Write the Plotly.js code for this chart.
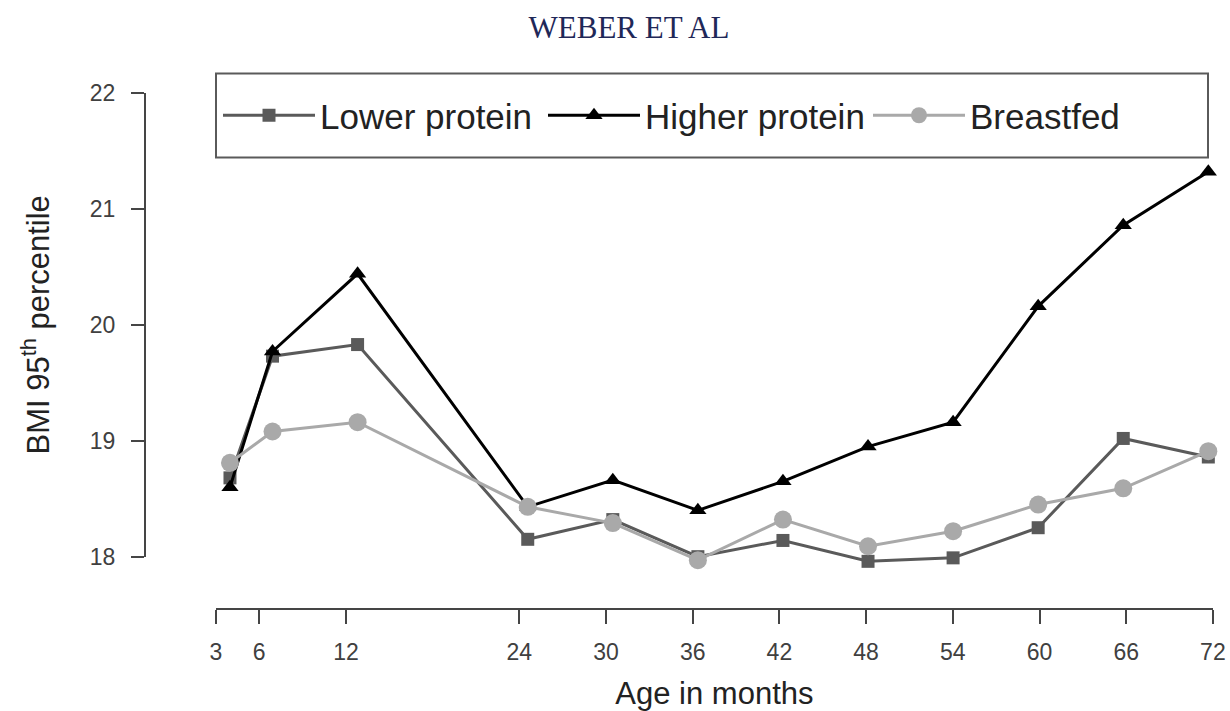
<!DOCTYPE html>
<html>
<head>
<meta charset="utf-8">
<script src="https://cdn.plot.ly/plotly-3.0.1.min.js"></script>
<style>
  html, body { margin: 0; padding: 0; background: #ffffff; }
  #chart { width: 1230px; height: 711px; }
</style>
</head>
<body>
<div id="chart"></div>
<script>
// Age at each visit (months)
const ages = [3, 6, 12, 24, 30, 36, 42, 48, 54, 60, 66, 72];

// BMI 95th percentile by feeding group
const lowerProtein  = [18.68, 19.73, 19.83, 18.15, 18.32, 18.00, 18.14, 17.96, 17.99, 18.25, 19.02, 18.86];
const higherProtein = [18.60, 19.77, 20.44, 18.43, 18.66, 18.40, 18.65, 18.95, 19.16, 20.16, 20.86, 21.32];
const breastfed     = [18.81, 19.08, 19.16, 18.43, 18.29, 17.97, 18.32, 18.09, 18.22, 18.45, 18.59, 18.91];

// Axis tick values and labels
const xTicks = [3, 6, 12, 24, 30, 36, 42, 48, 54, 60, 66, 72];
const yTicks = [18, 19, 20, 21, 22];

const W = 1230, H = 711;
const px = v => v / W;          // horizontal pixel -> paper fraction
const py = v => 1 - v / H;      // vertical pixel -> paper fraction

const sans = 'Liberation Sans, Arial, Helvetica, sans-serif';

const traces = [
  {
    name: 'Lower protein', x: ages, y: lowerProtein,
    mode: 'lines+markers', xaxis: 'x', yaxis: 'y',
    line: { color: '#5a5a5a', width: 3 },
    marker: { symbol: 'square', size: 13, color: '#5a5a5a' },
    cliponaxis: false
  },
  {
    name: 'Higher protein', x: ages, y: higherProtein,
    mode: 'lines+markers', xaxis: 'x', yaxis: 'y',
    line: { color: '#000000', width: 3 },
    marker: { symbol: 'triangle-up', size: 15, color: '#000000' },
    cliponaxis: false
  },
  {
    name: 'Breastfed', x: ages, y: breastfed,
    mode: 'lines+markers', xaxis: 'x', yaxis: 'y',
    line: { color: '#a9a9a9', width: 3 },
    marker: { symbol: 'circle', size: 18, color: '#a9a9a9' },
    cliponaxis: false
  },
  // carries the visible frame axes
  { x: [], y: [], xaxis: 'x2', yaxis: 'y2', showlegend: false, hoverinfo: 'skip', mode: 'markers' }
];

const axisLine = '#454545';

const layout = {
  width: W, height: H, autosize: false,
  margin: { l: 0, r: 0, t: 0, b: 0, pad: 0 },
  paper_bgcolor: '#ffffff', plot_bgcolor: 'rgba(0,0,0,0)',
  showlegend: true,
  title: {
    text: 'WEBER ET AL',
    x: px(629), y: py(27), xref: 'paper', yref: 'paper',
    xanchor: 'center', yanchor: 'middle',
    font: { family: 'Liberation Serif, Times New Roman, serif', size: 31, color: '#1f2858' }
  },
  // data scales
  xaxis: { range: [2, 73], domain: [px(215.8), px(1222.5)], visible: false, fixedrange: true },
  yaxis: { range: [17.5, 22.5], domain: [py(614.65), py(35.05)], visible: false, fixedrange: true },
  // drawn frame axes
  xaxis2: {
    range: [3, 72], domain: [px(215.9), px(1212.9)],
    anchor: 'free', position: py(609),
    showline: true, linecolor: axisLine, linewidth: 2,
    ticks: 'outside', ticklen: 14, tickwidth: 2, tickcolor: axisLine,
    tickmode: 'array', tickvals: xTicks, ticktext: xTicks.map(String),
    tickfont: { family: sans, size: 23, color: '#404040' },
    ticklabelstandoff: 8,
    showgrid: false, zeroline: false,
    title: { text: 'Age in months', standoff: 18, font: { family: sans, size: 31, color: '#222222' } }
  },
  yaxis2: {
    range: [18, 22], domain: [py(556.7), py(93)],
    anchor: 'free', position: px(145),
    showline: true, linecolor: axisLine, linewidth: 2,
    ticks: 'outside', ticklen: 13, tickwidth: 2, tickcolor: axisLine,
    tickmode: 'array', tickvals: yTicks, ticktext: yTicks.map(String),
    tickfont: { family: sans, size: 23, color: '#404040' },
    ticklabelstandoff: 11,
    showgrid: false, zeroline: false,
    title: { text: 'BMI 95<sup>th</sup> percentile', standoff: 30, font: { family: sans, size: 31, color: '#222222' } }
  },
  legend: {
    orientation: 'h',
    x: px(218), xanchor: 'left',
    y: py(115.5), yanchor: 'middle',
    bgcolor: 'rgba(0,0,0,0)', borderwidth: 0,
    itemwidth: 92, entrywidth: 218,
    font: { family: sans, size: 35, color: '#222222' },
    itemclick: false, itemdoubleclick: false
  },
  shapes: [
    {
      type: 'rect', xref: 'paper', yref: 'paper',
      x0: px(216), x1: px(1208), y0: py(73.5), y1: py(157.5),
      line: { color: '#5a5a5a', width: 2 }, fillcolor: 'rgba(0,0,0,0)', layer: 'below'
    }
  ]
};

Plotly.newPlot('chart', traces, layout, { staticPlot: true, displayModeBar: false });
</script>
</body>
</html>
